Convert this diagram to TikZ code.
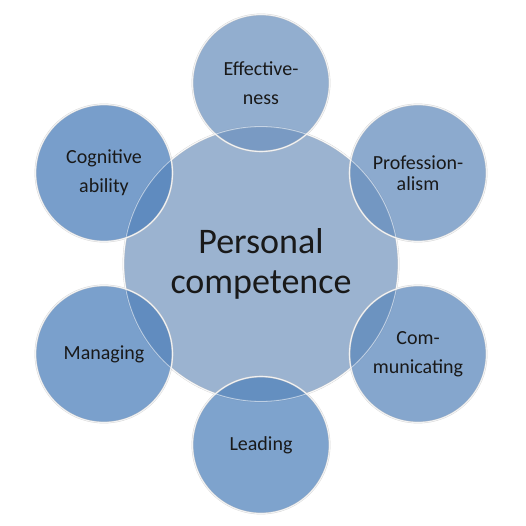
\documentclass[tikz,border=0pt]{standalone}
\usepackage{fontspec}
\setmainfont{Carlito}
\definecolor{hubblue}{RGB}{130,160,196}
\definecolor{effblue}{RGB}{110,147,191}
\definecolor{profblue}{RGB}{102,142,190}
\definecolor{commblue}{RGB}{92,136,188}
\definecolor{leadblue}{RGB}{83,132,188}
\definecolor{managblue}{RGB}{78,128,187}
\definecolor{cogblue}{RGB}{75,126,186}
\begin{document}
\begin{tikzpicture}[x=1pt,y=-1pt,
  every node/.style={align=center,text=black!90,text opacity=1},
  ball/.style={circle,draw=gray!45,double=white,double distance=1.1pt,line width=0.35pt,draw opacity=0.8,fill opacity=0.75},
  sat/.style={ball,minimum size=137pt,inner sep=0pt,font=\fontsize{20}{29}\selectfont},
  hub/.style={ball,minimum size=275pt,inner sep=0pt,fill=hubblue,fill opacity=0.8,font=\fontsize{36}{40}\selectfont}]
 \useasboundingbox (0,0) rectangle (526,526);
 \node[hub] (hub) at (261,264) {Personal\\competence};
 \node[sat,fill=effblue] (eff) at (261,83) {Effective-\\ness};
 \node[sat,fill=profblue,font=\fontsize{20}{21}\selectfont] (prof) at (418,173) {Profession-\\alism};
 \node[sat,fill=commblue] (comm) at (418,354) {Com-\\municating};
 \node[sat,fill=leadblue] (lead) at (261,445) {Leading};
 \node[sat,fill=managblue] (manag) at (104,354) {Managing};
 \node[sat,fill=cogblue] (cog) at (104,173) {Cognitive\\ability};
 % rim of the hub seen through the small circles
 \draw[white,draw opacity=0.5,line width=0.8pt] (hub.center) circle (137.5);
\end{tikzpicture}
\end{document}
